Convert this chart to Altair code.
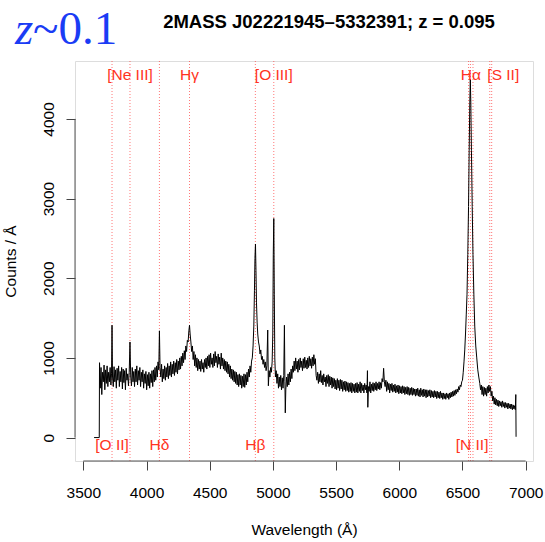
import altair as alt
import pandas as pd

# ---------------- spectrum ----------------
wave1 = [3585, 3626, 3628, 3634, 3640, 3646, 3652, 3658, 3664, 3670, 3676, 3682, 3688, 3694, 3700, 3706, 3712, 3718, 3723, 3727,
         3731, 3737, 3743, 3749, 3755, 3761, 3767, 3773, 3779, 3785, 3791, 3797, 3803, 3809, 3815, 3821, 3827, 3833, 3839, 3845,
         3851, 3857, 3863, 3869, 3875, 3881, 3887, 3893, 3899, 3905, 3911, 3917, 3923, 3929, 3935, 3941, 3947, 3953, 3959, 3965,
         3971, 3977, 3983, 3989, 3995, 4001, 4007, 4013, 4019, 4025, 4031, 4037, 4043, 4049, 4055, 4061, 4067, 4073, 4079, 4085,
         4091, 4097, 4102, 4107, 4113, 4119, 4125, 4131, 4137, 4143, 4149, 4155, 4161, 4167, 4173, 4179, 4185, 4191, 4197, 4203,
         4209, 4215, 4221, 4227, 4233, 4239, 4245, 4251, 4257, 4263, 4269, 4275, 4281, 4287, 4293, 4299, 4305, 4311, 4317, 4323,
         4329, 4335, 4340, 4345, 4351, 4357, 4363, 4369, 4375, 4381, 4387, 4393, 4399]
flux1 = [0, 0, 940, 620, 880, 540, 820, 700, 910, 600, 850, 680, 900, 640, 820, 700, 880, 660, 800, 1410,
         760, 640, 890, 700, 850, 620, 870, 720, 900, 640, 830, 700, 880, 610, 860, 690, 840, 600, 870, 720,
         800, 650, 820, 1200, 760, 650, 880, 700, 830, 640, 860, 700, 900, 660, 840, 720, 880, 640, 820, 700,
         850, 620, 800, 680, 830, 600, 790, 650, 820, 620, 800, 690, 840, 640, 850, 700, 880, 720, 900, 760,
         950, 850, 1340, 880, 760, 920, 700, 860, 740, 900, 720, 880, 760, 930, 740, 900, 780, 950, 760, 920,
         800, 960, 780, 940, 820, 980, 800, 960, 850, 1000, 860, 1020, 900, 1060, 940, 1090, 980, 1150, 1080, 1220,
         1200, 1340, 1410, 1300, 1200, 1080, 1150, 980, 1080, 900, 1040, 880, 1000]

wave2 = [4405, 4411, 4417, 4423, 4429, 4435, 4441, 4447, 4453, 4459, 4465, 4471, 4477, 4483, 4489, 4495, 4501, 4507, 4513, 4519,
         4525, 4531, 4537, 4543, 4549, 4555, 4561, 4567, 4573, 4579, 4585, 4591, 4597, 4603, 4609, 4615, 4621, 4627, 4633, 4639,
         4645, 4651, 4657, 4663, 4669, 4675, 4681, 4687, 4693, 4699, 4705, 4711, 4717, 4723, 4729, 4735, 4741, 4747, 4753, 4759,
         4765, 4771, 4777, 4783, 4789, 4795, 4801, 4807, 4813, 4819, 4825, 4831, 4837, 4843, 4849, 4854, 4858, 4862, 4866, 4870,
         4875, 4880, 4886, 4892, 4898, 4904, 4910, 4916, 4922, 4928, 4934, 4940, 4946, 4952, 4959, 4964, 4970, 4976, 4982, 4988,
         4994, 4999, 5003, 5007, 5011, 5015, 5020, 5026, 5032, 5038, 5044, 5050, 5056, 5062, 5068, 5074, 5080, 5086, 5091, 5095,
         5098, 5102, 5108, 5114, 5120, 5126, 5132, 5138, 5144, 5150, 5156, 5162, 5168, 5174, 5180, 5186, 5192, 5198, 5204, 5210,
         5216, 5222, 5228, 5234, 5240, 5246, 5252, 5258, 5264, 5270, 5276, 5282, 5288, 5294, 5300, 5306, 5312, 5318, 5324, 5330,
         5336, 5342, 5348, 5354, 5360, 5366, 5372, 5378, 5384, 5390, 5396]
flux2 = [840, 980, 860, 960, 830, 980, 860, 940, 820, 980, 880, 1000, 860, 1020, 900, 1040, 880, 1060, 920, 1000,
         880, 1050, 900, 1080, 940, 1020, 880, 1050, 920, 1010, 860, 1060, 900, 1000, 860, 980, 840, 960, 820, 950,
         800, 920, 760, 900, 740, 860, 720, 850, 700, 830, 680, 820, 660, 790, 640, 800, 660, 780, 620, 770,
         640, 800, 630, 790, 660, 820, 700, 860, 760, 900, 820, 960, 1000, 1150, 1400, 1850, 2250, 2430, 2100, 1700,
         1450, 1300, 1200, 1150, 1050, 1100, 980, 1020, 920, 980, 880, 950, 840, 900, 1350, 650, 840, 760, 880, 820,
         950, 1300, 2300, 2750, 1800, 1000, 760, 840, 680, 800, 620, 760, 640, 780, 600, 750, 620, 780, 1410, 700,
         310, 600, 760, 640, 800, 660, 820, 700, 860, 740, 900, 820, 960, 840, 1000, 860, 960, 820, 980, 850,
         1000, 880, 960, 840, 990, 870, 1010, 880, 970, 860, 1000, 880, 1020, 900, 990, 870, 1010, 900, 1040, 920,
         990, 780, 720, 820, 680, 800, 700, 840, 690, 780, 660]

wave3 = [5402, 5408, 5414, 5420, 5426, 5432, 5438, 5444, 5450, 5456, 5462, 5468, 5474, 5480, 5486, 5492, 5498, 5504, 5510, 5516,
         5522, 5528, 5534, 5540, 5546, 5552, 5558, 5564, 5570, 5576, 5582, 5588, 5594, 5600, 5606, 5612, 5618, 5624, 5630, 5636,
         5642, 5648, 5654, 5660, 5666, 5672, 5678, 5684, 5690, 5696, 5702, 5708, 5714, 5720, 5726, 5732, 5738, 5744, 5748, 5751,
         5756, 5762, 5768, 5774, 5780, 5786, 5792, 5798, 5804, 5810, 5816, 5822, 5828, 5834, 5840, 5846, 5852, 5858, 5864, 5870,
         5876, 5882, 5888, 5894, 5900, 5906, 5912, 5918, 5924, 5930, 5936, 5942, 5948, 5954, 5960, 5966, 5972, 5978, 5984, 5990,
         5996, 6002, 6008, 6014, 6020, 6026, 6032, 6038, 6044, 6050, 6056, 6062, 6068, 6074, 6080, 6086, 6092, 6098, 6104, 6110,
         6116, 6122, 6128, 6134, 6140, 6146, 6152, 6158, 6164, 6170, 6176, 6182, 6188, 6194, 6200, 6206, 6212, 6218, 6224, 6230,
         6236, 6242, 6248, 6254, 6260, 6266, 6272, 6278, 6284, 6290, 6296, 6302, 6308, 6314, 6320, 6326, 6332, 6338, 6344, 6350,
         6356, 6362, 6368, 6374, 6380, 6386, 6392, 6398]
flux3 = [800, 700, 760, 640, 780, 680, 790, 640, 770, 660, 760, 620, 750, 640, 740, 610, 720, 600, 740, 620,
         720, 590, 730, 610, 720, 580, 700, 600, 710, 580, 700, 590, 690, 570, 680, 580, 690, 560, 680, 580,
         670, 560, 680, 570, 690, 560, 670, 580, 700, 560, 680, 590, 660, 560, 680, 600, 660, 560, 840, 380,
         640, 580, 700, 560, 670, 590, 690, 580, 680, 600, 700, 590, 680, 610, 700, 600, 690, 620, 740, 700,
         870, 700, 640, 720, 580, 700, 600, 680, 560, 670, 590, 680, 570, 660, 580, 670, 560, 650, 570, 660,
         550, 650, 560, 640, 550, 650, 560, 640, 540, 630, 550, 640, 540, 630, 530, 620, 540, 630, 530, 620,
         540, 610, 520, 610, 530, 620, 520, 600, 510, 620, 530, 600, 510, 610, 520, 600, 500, 600, 510, 590,
         520, 600, 500, 590, 510, 580, 500, 590, 510, 580, 490, 580, 500, 570, 490, 580, 500, 560, 480, 560,
         490, 550, 480, 560, 500, 550, 480, 560]

wave4 = [6404, 6410, 6416, 6422, 6428, 6434, 6440, 6446, 6452, 6458, 6464, 6470, 6476, 6482, 6488, 6494, 6500, 6506, 6512, 6518,
         6524, 6530, 6536, 6542, 6548, 6553, 6558, 6562, 6566, 6571, 6577, 6583, 6590, 6597, 6605, 6613, 6621, 6629, 6637, 6643,
         6649, 6655, 6661, 6667, 6673, 6679, 6685, 6691, 6697, 6703, 6709, 6715, 6721, 6727, 6733, 6739, 6745, 6751, 6757, 6763,
         6769, 6775, 6781, 6787, 6793, 6799, 6805, 6811, 6817, 6823, 6829, 6835, 6841, 6847, 6853, 6859, 6865, 6871, 6877, 6883,
         6889, 6895, 6901, 6907, 6913, 6918, 6922, 6924]
flux4 = [500, 570, 510, 580, 520, 590, 530, 600, 550, 610, 570, 640, 600, 660, 640, 700, 720, 820, 950, 1100,
         1300, 1550, 1800, 2300, 2900, 3600, 4200, 4500, 4200, 3600, 2900, 2300, 1800, 1400, 1150, 1000, 850, 760, 680, 600,
         660, 540, 640, 520, 630, 540, 620, 520, 640, 560, 660, 580, 640, 520, 580, 460, 520, 420, 500, 410,
         480, 400, 470, 390, 460, 400, 450, 380, 460, 390, 440, 370, 440, 380, 430, 360, 430, 370, 420, 360,
         420, 350, 410, 360, 400, 350, 540, 10]

# ---------------- emission-line markers ----------------
line_waves = [3727, 3869, 4102, 4340, 4861, 5007, 6548, 6563, 6583, 6716, 6731]
top_labels = ["[Ne III]", "Hγ", "[O III]", "Hα", "[S II]"]
top_label_waves = [3869, 4340, 5007, 6566, 6823]
bottom_labels = ["[O II]", "Hδ", "Hβ", "[N II]"]
bottom_label_waves = [3727, 4102, 4861, 6576]

x_ticks = [3500, 4000, 4500, 5000, 5500, 6000, 6500, 7000]
y_ticks = [0, 1000, 2000, 3000, 4000]

title_text = "2MASS J02221945–5332391; z = 0.095"

W, H = 458, 400
FONT = "Liberation Sans"

spec = pd.DataFrame({"wave": wave1 + wave2 + wave3 + wave4,
                     "flux": flux1 + flux2 + flux3 + flux4})
lines_df = pd.DataFrame({"wave": line_waves})
top_df = pd.DataFrame({"wave": top_label_waves, "label": top_labels})
bot_df = pd.DataFrame({"wave": bottom_label_waves, "label": bottom_labels})
one = pd.DataFrame({"k": [0]})

xscale = alt.Scale(domain=[3434, 7058], nice=False, zero=False)
yscale = alt.Scale(domain=[-294, 4727], nice=False, zero=False)

xaxis = alt.Axis(values=x_ticks, format="d", grid=False, domain=False,
                 tickSize=9, tickColor="#444444", tickWidth=1,
                 labelFont=FONT, labelFontSize=15.5, labelColor="black",
                 labelBaseline="alphabetic", labelPadding=27, labelFlush=False,
                 labelOverlap=False,
                 title="Wavelength (Å)", titleFont=FONT, titleFontSize=15.5,
                 titleFontWeight="normal", titleColor="black",
                 titleBaseline="alphabetic", titleY=73, titleX=W / 2)
yaxis = alt.Axis(values=y_ticks, format="d", grid=False, domain=False,
                 tickSize=9, tickColor="#444444", tickWidth=1,
                 labelFont=FONT, labelFontSize=15.5, labelColor="black",
                 labelAngle=270, labelAlign="center", labelBaseline="alphabetic",
                 labelPadding=13, labelOverlap=False, labelFlush=False,
                 title="Counts / Å", titleFont=FONT, titleFontSize=15.5,
                 titleFontWeight="normal", titleColor="black",
                 titleAngle=270, titleAlign="center", titleBaseline="alphabetic",
                 titleX=-60, titleY=H / 2)

X = alt.X("wave:Q", scale=xscale, axis=xaxis)
Y = alt.Y("flux:Q", scale=yscale, axis=yaxis)

rules = alt.Chart(lines_df).mark_rule(
    color="#ff4a4a", strokeWidth=1, strokeDash=[1, 2], opacity=0.75
).encode(x=X)

spectrum = alt.Chart(spec).mark_line(
    color="black", strokeWidth=1
).encode(x=X, y=Y)

top_text = alt.Chart(top_df).mark_text(
    font=FONT, fontSize=15.5, color="#ff3322", align="center", baseline="alphabetic"
).encode(x=X, y=alt.datum(4485), text="label:N")

bot_text = alt.Chart(bot_df).mark_text(
    font=FONT, fontSize=15.5, color="#ff3322", align="center", baseline="alphabetic"
).encode(x=X, y=alt.datum(-162), text="label:N")

yline = alt.Chart(one).mark_rule(color="#555555", strokeWidth=1).encode(
    x=alt.value(0), y=alt.datum(0), y2=alt.datum(4000))
xline = alt.Chart(one).mark_rule(color="#555555", strokeWidth=1).encode(
    y=alt.value(H), x=alt.datum(3500), x2=alt.datum(7000))

title = alt.Chart(pd.DataFrame({"t": [title_text]})).mark_text(
    font=FONT, fontSize=18.5, fontWeight="bold", color="black",
    align="center", baseline="alphabetic"
).encode(x=alt.value(254), y=alt.value(-32.7), text="t:N")

zz = alt.Chart(pd.DataFrame({"t": ["z"]})).mark_text(
    font="Liberation Serif", fontSize=47, fontStyle="italic", color="#1a3cf5",
    align="left", baseline="alphabetic"
).encode(x=alt.value(-60), y=alt.value(-17.5), text="t:N")

zval = alt.Chart(pd.DataFrame({"t": ["~0.1"]})).mark_text(
    font="Liberation Serif", fontSize=47, color="#1a3cf5",
    align="left", baseline="alphabetic"
).encode(x=alt.value(-42), y=alt.value(-17.5), text="t:N")

chart = alt.layer(rules, spectrum, top_text, bot_text, yline, xline, title, zz, zval).properties(
    width=W, height=H,
    autosize=alt.AutoSizeParams(type="none"),
    padding={"left": 75, "top": 61, "right": 12, "bottom": 81},
).configure_view(stroke="#8c8c8c", strokeWidth=1).configure(background="white")

chart.save("out.html", embed_options={"renderer": "svg", "actions": False})
